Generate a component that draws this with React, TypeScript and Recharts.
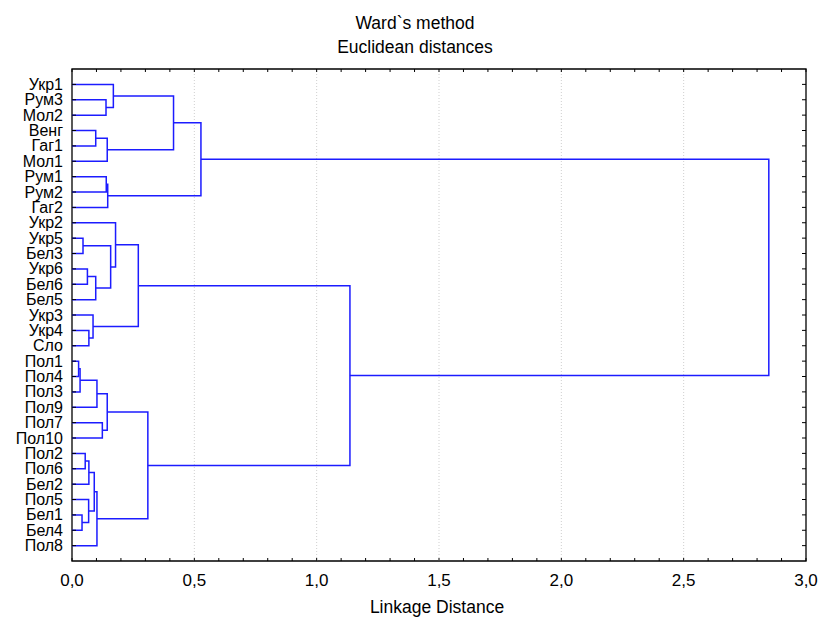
import React from "react";
import { ScatterChart, Scatter, XAxis, YAxis, ReferenceLine, ReferenceArea } from "recharts";

const leaves = [
  "Укр1", "Рум3", "Мол2", "Венг", "Гаг1", "Мол1", "Рум1", "Рум2", "Гаг2",
  "Укр2", "Укр5", "Бел3", "Укр6", "Бел6", "Бел5", "Укр3", "Укр4", "Сло",
  "Пол1", "Пол4", "Пол3", "Пол9", "Пол7", "Пол10", "Пол2", "Пол6", "Бел2",
  "Пол5", "Бел1", "Бел4", "Пол8",
];

// [childA, childB, linkage distance]; leaves are 0..30, cluster k is 31 + k
const merges: [number, number, number][] = [
  [1, 2, 0.139],
  [0, 31, 0.169],
  [3, 4, 0.097],
  [33, 5, 0.144],
  [32, 34, 0.415],
  [6, 7, 0.14],
  [36, 8, 0.146],
  [35, 37, 0.527],
  [10, 11, 0.045],
  [12, 13, 0.063],
  [40, 14, 0.097],
  [39, 41, 0.158],
  [9, 42, 0.178],
  [16, 17, 0.069],
  [15, 44, 0.086],
  [43, 45, 0.271],
  [18, 19, 0.027],
  [47, 20, 0.033],
  [48, 21, 0.102],
  [22, 23, 0.124],
  [49, 50, 0.144],
  [24, 25, 0.054],
  [52, 26, 0.069],
  [28, 29, 0.041],
  [27, 54, 0.068],
  [53, 55, 0.091],
  [56, 30, 0.102],
  [51, 57, 0.31],
  [46, 58, 1.136],
  [38, 59, 2.848],
];

const xTicks = [
  0, 0.1, 0.2, 0.3, 0.4, 0.5, 0.6, 0.7, 0.8, 0.9, 1.0, 1.1, 1.2, 1.3, 1.4, 1.5,
  1.6, 1.7, 1.8, 1.9, 2.0, 2.1, 2.2, 2.3, 2.4, 2.5, 2.6, 2.7, 2.8, 2.9, 3.0,
];
const gridX = [0.5, 1.0, 1.5, 2.0, 2.5];
const titleLines = ["Ward`s method", "Euclidean distances"];
const xLabel = "Linkage Distance";

const BLUE = "#1c1cff";
const FONT = "'Liberation Sans', Arial, sans-serif";
const PLOT_W = 734;
const PLOT_H = 492;

type Node = { y: number; h: number };
const nodes: Node[] = leaves.map((_, i) => ({ y: i, h: 0 }));
merges.forEach(([a, b, h]) => {
  nodes.push({ y: (nodes[a].y + nodes[b].y) / 2, h });
});
const links = merges.map(([a, b, h]) => [
  { x: nodes[a].h, y: nodes[a].y },
  { x: h, y: nodes[a].y },
  { x: h, y: nodes[b].y },
  { x: nodes[b].h, y: nodes[b].y },
]);
const yTicks = leaves.map((_, i) => i);

const isMajor = (v: number) => Math.abs(v * 2 - Math.round(v * 2)) < 1e-6;

const XTick = (props: any) => {
  const { x, y, payload } = props;
  const v = payload.value as number;
  return (
    <g>
      <line x1={x} y1={y} x2={x} y2={y - 3} stroke="#000" />
      <line x1={x} y1={y - PLOT_H} x2={x} y2={y - PLOT_H + 3} stroke="#000" />
      {isMajor(v) && (
        <text x={x} y={y + 25} textAnchor="middle" fontSize={17} fontFamily={FONT} fill="#000">
          {v.toFixed(1).replace(".", ",")}
        </text>
      )}
    </g>
  );
};

const YTick = (props: any) => {
  const { x, y, payload } = props;
  return (
    <g>
      <line x1={x} y1={y} x2={x + 4} y2={y} stroke="#000" />
      <line x1={x + PLOT_W} y1={y} x2={x + PLOT_W - 4} y2={y} stroke="#000" />
      <text x={x - 9} y={y + 5.5} textAnchor="end" fontSize={16} fontFamily={FONT} fill="#000">
        {leaves[payload.value]}
      </text>
    </g>
  );
};

const textStyle: React.CSSProperties = {
  position: "absolute",
  fontFamily: FONT,
  fontSize: 17.5,
  lineHeight: "20px",
  textAlign: "center",
  color: "#000",
  whiteSpace: "nowrap",
};

export default function App() {
  return (
    <div style={{ position: "absolute", left: 0, top: 0, width: 818, height: 619, background: "#fff" }}>
      <div style={{ ...textStyle, left: 215, width: 400, top: 13 }}>{titleLines[0]}</div>
      <div style={{ ...textStyle, left: 215, width: 400, top: 37 }}>{titleLines[1]}</div>
      <div style={{ ...textStyle, left: 237, width: 400, top: 597 }}>{xLabel}</div>
      <ScatterChart width={818} height={619} margin={{ top: 69, right: 12, bottom: 28, left: 12 }}>
        <XAxis
          type="number"
          dataKey="x"
          domain={[0, 3]}
          ticks={xTicks}
          interval={0}
          tickSize={0}
          tickMargin={0}
          tickLine={false}
          axisLine={false}
          height={30}
          tick={<XTick />}
          allowDataOverflow
        />
        <YAxis
          type="number"
          dataKey="y"
          domain={[-1, 31]}
          reversed
          ticks={yTicks}
          interval={0}
          tickSize={0}
          tickMargin={0}
          tickLine={false}
          axisLine={false}
          width={60}
          tick={<YTick />}
          allowDataOverflow
        />
        {gridX.map((g) => (
          <ReferenceLine key={g} x={g} stroke="#cfcfcf" strokeDasharray="1 2" />
        ))}
        {links.map((d, i) => (
          <Scatter
            key={i}
            data={d}
            line={{ stroke: BLUE, strokeWidth: 1.5 }}
            lineType="joint"
            shape={() => <g />}
            isAnimationActive={false}
          />
        ))}
        <ReferenceArea x1={0} x2={3} y1={-1} y2={31} fill="none" stroke="#000" strokeWidth={1.3} fillOpacity={0} />
      </ScatterChart>
    </div>
  );
}
